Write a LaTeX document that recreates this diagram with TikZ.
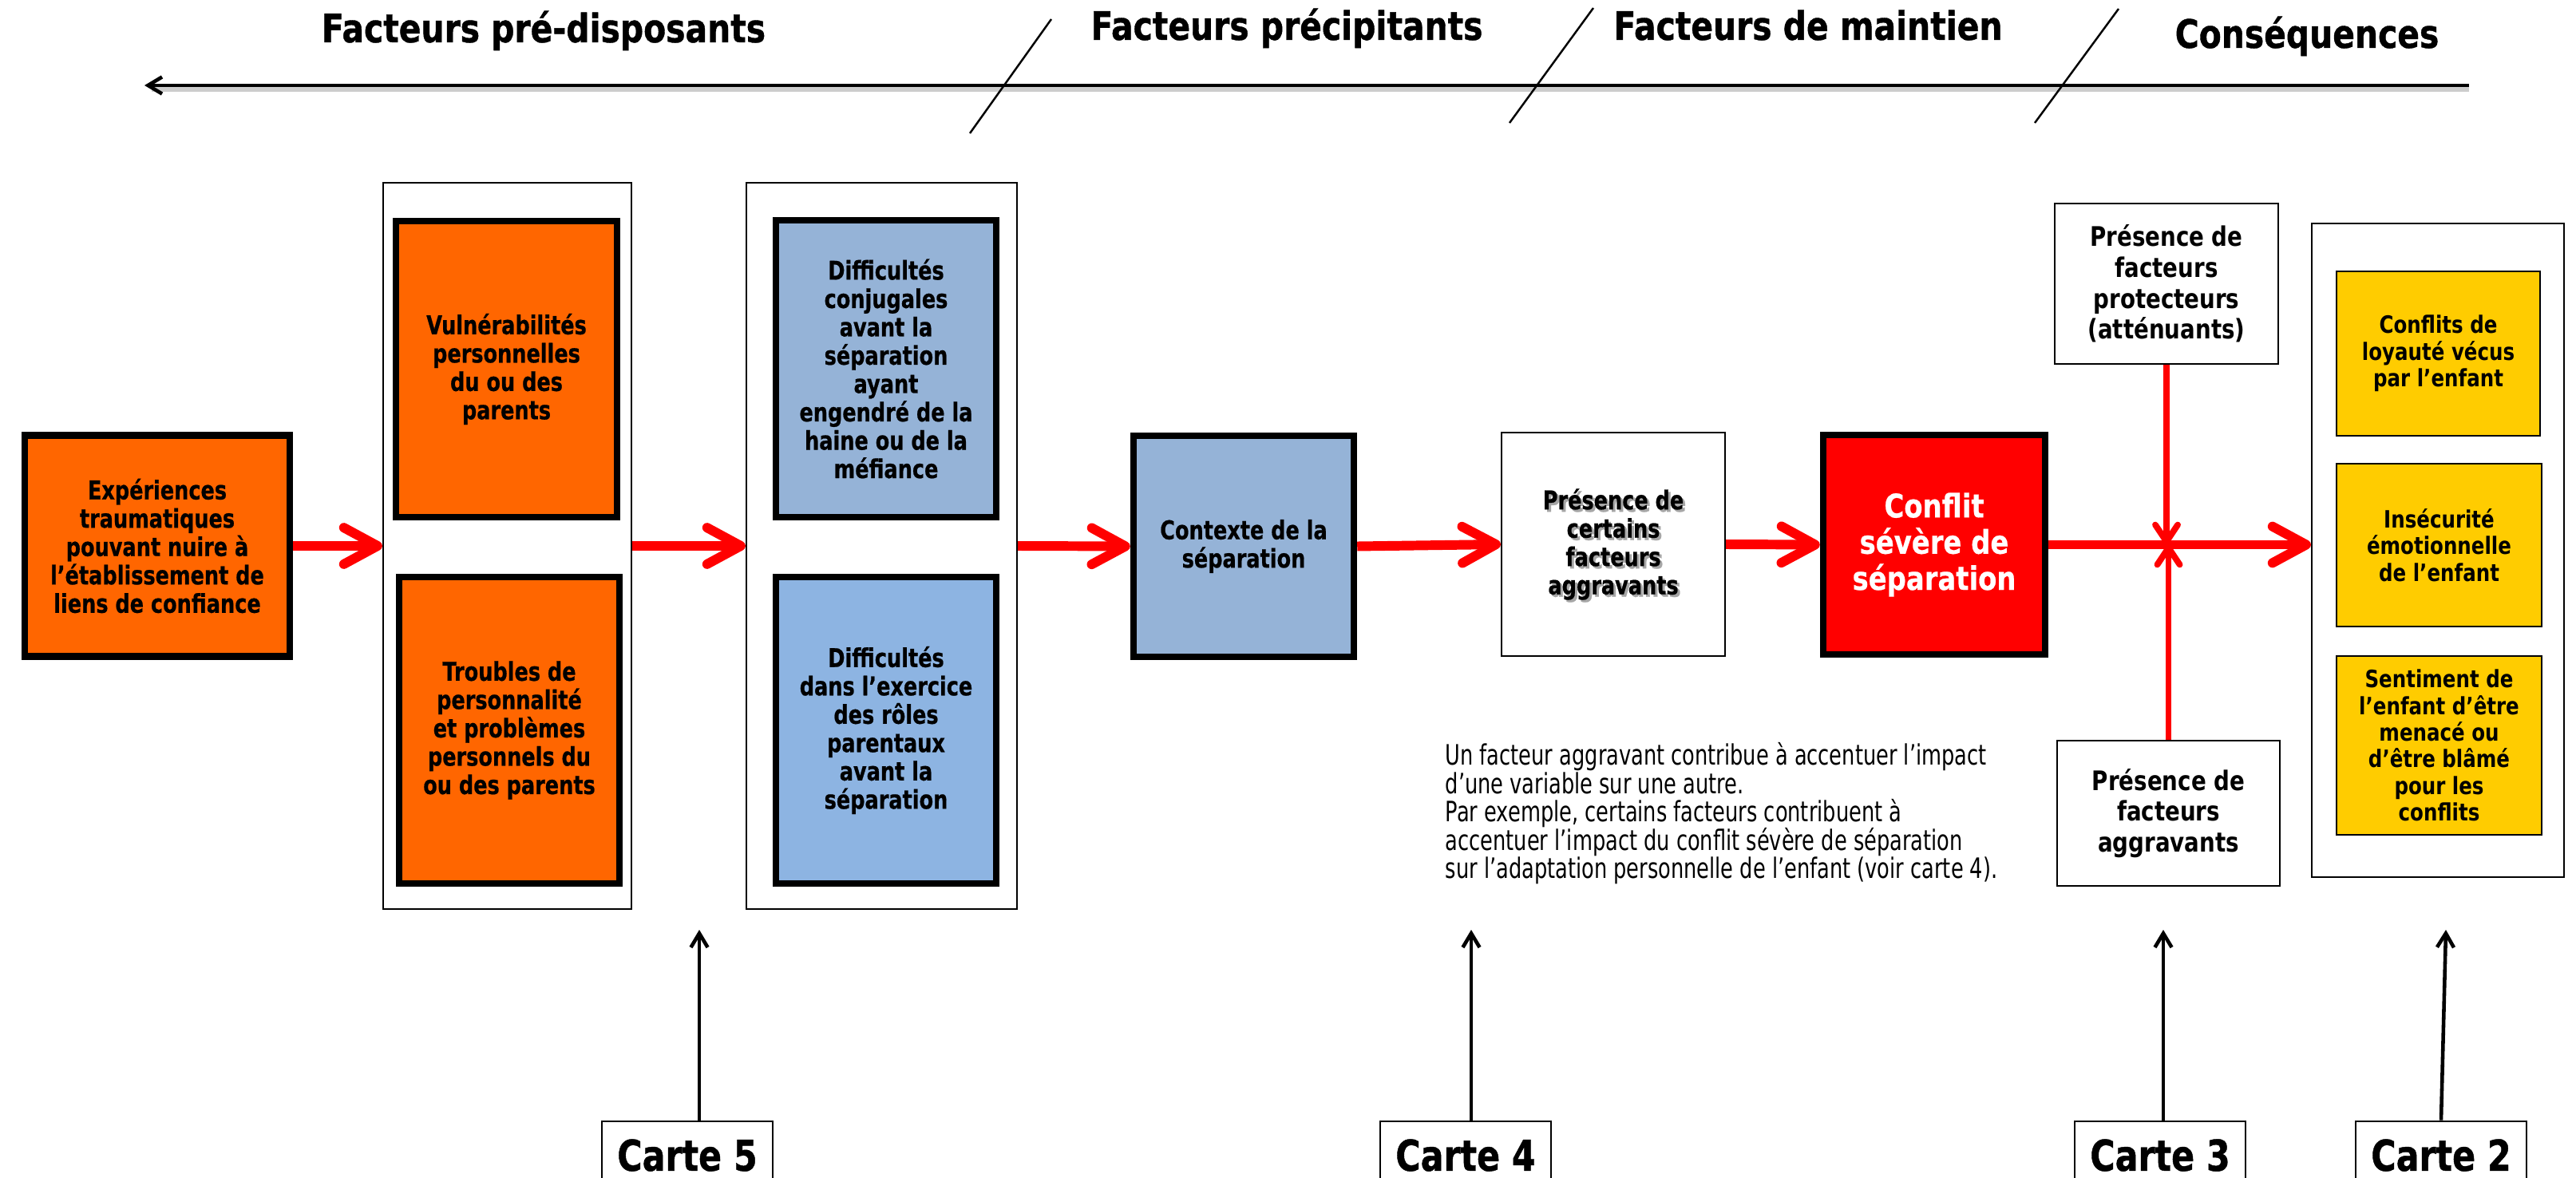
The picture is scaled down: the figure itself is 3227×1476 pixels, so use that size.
\documentclass[tikz,border=0pt]{standalone}
\usepackage{fontspec}
\setmainfont{DejaVu Sans}
\newfontfamily\fA{DejaVu Sans}[FakeStretch=0.79, BoldFeatures={FakeBold=0.6}]
\newfontfamily\fB{DejaVu Sans}[FakeStretch=0.82]
\newfontfamily\fH{DejaVu Sans}[FakeStretch=0.83, BoldFeatures={FakeBold=0.8}]
\newfontfamily\fC{DejaVu Sans}[FakeStretch=0.8, BoldFeatures={FakeBold=0.8}]
\newfontfamily\fN{DejaVu Sans}[FakeStretch=0.73]
\newfontfamily\fR{DejaVu Sans}[FakeStretch=0.83, BoldFeatures={FakeBold=0.5}]
\usetikzlibrary{arrows.meta}
\definecolor{orng}{HTML}{FF6600}
\definecolor{blueA}{HTML}{95B3D7}
\definecolor{blueB}{HTML}{8DB4E2}
\definecolor{yel}{HTML}{FFCC00}
\definecolor{rd}{HTML}{FF0000}
\begin{document}
\begin{tikzpicture}[x=0.01cm,y=-0.01cm,
  sz/.style 2 args={minimum width=#1*0.01cm, minimum height=#2*0.01cm},
  thickbox/.style={draw=black, line width=2.4pt, inner sep=0pt, align=center},
  thinbox/.style={draw=black, line width=0.6pt, inner sep=0pt, align=center},
  yelbox/.style={draw=black, line width=0.8pt, fill=yel, inner sep=0pt, align=center},
  leftfont/.style={font=\fA\bfseries\fontsize{9.2}{10.1}\selectfont},
  rightfont/.style={font=\fB\bfseries\fontsize{9.6}{11}\selectfont},
  yelfont/.style={font=\fB\bfseries\fontsize{8.5}{9.5}\selectfont},
  redarrow/.style={draw=rd, line width=3.4pt, -{Straight Barb[length=12pt,width=13pt,round]}},
  redvarrow/.style={draw=rd, line width=2.2pt, -{Straight Barb[length=6pt,width=8pt,round]}},
  blackarrow/.style={draw=black, line width=1.3pt, -{Straight Barb[length=5pt,width=6pt]}},
  header/.style={font=\fH\bfseries\fontsize{14}{15}\selectfont, inner sep=0pt, anchor=base},
  cartebox/.style={draw=black, line width=0.8pt, inner sep=0pt, sz={214}{85}, font=\fC\bfseries\fontsize{15.2}{16}\selectfont},
  slash/.style={draw=black, line width=0.7pt}
]
\useasboundingbox (0,0) rectangle (3227,1476);

% ---- timeline header ----
\node[header] (h1) at (681,53) {Facteurs pré-disposants};
\node[header] (h2) at (1612,50) {Facteurs précipitants};
\node[header] (h3) at (2265,50) {Facteurs de maintien};
\node[header] (h4) at (2890,60) {Conséquences};
\coordinate (tlR) at (3093,107);
\coordinate (tlL) at (181,107);
\draw[black!20, line width=1.6pt] (3093,112) -- (190,112);
\draw[blackarrow] (tlR) -- (tlL);
\draw[slash] (1215,167) -- (1317,24);
\draw[slash] (1891,154) -- (1996,10);
\draw[slash] (2549,154) -- (2654,11);

% ---- frames ----
\node[thinbox, sz={311}{910}] (f1) at (635.5,684) {};
\node[thinbox, sz={339}{910}] (f2) at (1104.5,684) {};
\node[thinbox, sz={316}{819}] (f3) at (3054,689.5) {};

% ---- boxes ----
\node[thickbox, fill=orng, sz={332}{277}, leftfont] (exp) at (197,684)
  {Expériences\\traumatiques\\pouvant nuire à\\l’établissement de\\liens de confiance};
\node[thickbox, fill=orng, sz={277}{371}, leftfont] (vul) at (634.5,462.5)
  {Vulnérabilités\\personnelles\\du ou des\\parents};
\node[thickbox, fill=orng, sz={276}{384}, leftfont] (tro) at (638,915)
  {Troubles de\\personnalité\\et problèmes\\personnels du\\ou des parents};
\node[thickbox, fill=blueA, sz={276}{372}, leftfont] (dc) at (1110,462)
  {Difficultés\\conjugales\\avant la\\séparation\\ayant\\engendré de la\\haine ou de la\\méfiance};
\node[thickbox, fill=blueB, sz={276}{384}, leftfont] (dr) at (1110,915)
  {Difficultés\\dans l’exercice\\des rôles\\parentaux\\avant la\\séparation};
\node[thickbox, fill=blueA, sz={276}{277}, leftfont] (ctx) at (1558,684.5)
  {Contexte de la\\séparation};
\node[inner sep=0pt, align=center, leftfont, text=black!35] (pcash) at (2024,685)
  {Présence de\\certains\\facteurs\\aggravants};
\node[thinbox, sz={280}{280}, leftfont] (pca) at (2021,682)
  {Présence de\\certains\\facteurs\\aggravants};
\node[thickbox, fill=rd, sz={278}{275}, text=white, font=\fR\bfseries\fontsize{11.6}{12.9}\selectfont] (conf) at (2423,682.5)
  {Conflit\\sévère de\\séparation};
\node[thinbox, sz={280}{201}, rightfont] (prot) at (2714,355.5)
  {Présence de\\facteurs\\protecteurs\\(atténuants)};
\node[thinbox, sz={279}{182}, rightfont] (agg) at (2716.5,1019)
  {Présence de\\facteurs\\aggravants};
\node[yelbox, sz={255}{206}, yelfont] (y1) at (3054.5,443)
  {Conflits de\\loyauté vécus\\par l’enfant};
\node[yelbox, sz={257}{204}, yelfont] (y2) at (3055.5,683)
  {Insécurité\\émotionnelle\\de l’enfant};
\node[yelbox, sz={257}{224}, yelfont] (y3) at (3055.5,934)
  {Sentiment de\\l’enfant d’être\\menacé ou\\d’être blâmé\\pour les\\conflits};

% ---- note ----
\node[anchor=north west, inner sep=0pt, align=left, font=\fN\fontsize{10}{10.1}\selectfont] (note) at (1810,930)
  {Un facteur aggravant contribue à accentuer l’impact\\d’une variable sur une autre.\\Par exemple, certains facteurs contribuent à\\accentuer l’impact du conflit sévère de séparation\\sur l’adaptation personnelle de l’enfant (voir carte 4).};

% ---- red arrows ----
\draw[redarrow] (exp.east) -- (f1.west);
\draw[redarrow] (f1.east) -- (f2.west);
\draw[redarrow] (f2.east) -- (ctx.west);
\draw[redarrow] (ctx.east) -- (pca.west);
\draw[redarrow] (pca.east) -- (conf.west);
\draw[redarrow] (conf.east) -- (conf.east -| f3.west);
\draw[redvarrow] (prot.south) -- (prot.south |- conf.east);
\draw[redvarrow] (agg.north) -- (agg.north |- conf.east);

% ---- carte labels ----
\node[cartebox] (c5) at (861,1447.5) {Carte 5};
\node[cartebox] (c4) at (1836,1447.5) {Carte 4};
\node[cartebox] (c3) at (2706,1447.5) {Carte 3};
\node[cartebox] (c2) at (3058,1447.5) {Carte 2};
\coordinate (k5) at (876,1165);
\coordinate (k4) at (1843,1165);
\coordinate (k3) at (2710,1165);
\coordinate (k2) at (3064,1165);
\draw[blackarrow] (k5 |- c5.north) -- (k5);
\draw[blackarrow] (k4 |- c4.north) -- (k4);
\draw[blackarrow] (k3 |- c3.north) -- (k3);
\draw[blackarrow] (c2.north) -- (k2);
\end{tikzpicture}
\end{document}
